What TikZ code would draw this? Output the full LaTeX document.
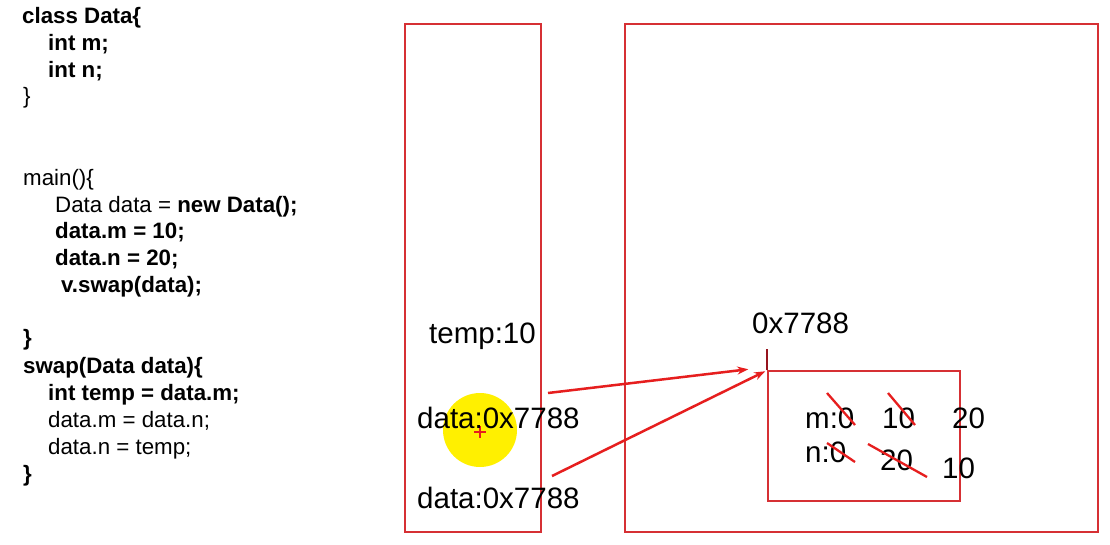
\documentclass[tikz,border=0pt]{standalone}
\usepackage{fontspec}
\setmainfont{Liberation Sans}
\usetikzlibrary{arrows.meta}
\definecolor{boxred}{RGB}{214,48,52}
\definecolor{arrred}{RGB}{230,30,30}
\definecolor{tickred}{RGB}{150,20,30}
\definecolor{hilite}{RGB}{255,240,0}
\begin{document}
\begin{tikzpicture}[x=1pt,y=-1pt,
  code/.style={anchor=base west,inner sep=0pt,font=\fontsize{22.3}{26}\selectfont},
  lbl/.style={anchor=base west,inner sep=0pt,font=\fontsize{29.5}{35}\selectfont},
  frame/.style={draw=boxred,line width=1.5pt,inner sep=0pt},
  ptr/.style={draw=arrred,line width=2.5pt,-{Stealth[length=11pt,width=8pt]}},
  strike/.style={draw=arrred,line width=2.3pt}]
\useasboundingbox (0,0) rectangle (1110,544);
\fill[white] (0,0) rectangle (1110,544);
% code
\node[code] (c1) at (22,23) {\bfseries class Data\{};
\node[code] (c2) at (48,50) {\bfseries int m;};
\node[code] (c3) at (48,77) {\bfseries int n;};
\node[code] (c4) at (23,103) {\}};
\node[code] (c5) at (23,185) {main()\{};
\node[code] (c6) at (55,212) {Data data = \textbf{new Data();}};
\node[code] (c7) at (55,238) {\bfseries data.m = 10;};
\node[code] (c8) at (55,265) {\bfseries data.n = 20;};
\node[code] (c9) at (61,292) {\bfseries v.swap(data);};
\node[code] (c10) at (23,345) {\bfseries \}};
\node[code] (c11) at (23,373) {\bfseries swap(Data data)\{};
\node[code] (c12) at (48,400) {\bfseries int temp = data.m;};
\node[code] (c13) at (48,427) {data.m = data.n;};
\node[code] (c14) at (48,454) {data.n = temp;};
\node[code] (c15) at (23,481) {\bfseries \}};
% frames
\node[frame,minimum width=136pt,minimum height=508pt] (stack) at (473,278) {};
\node[frame,minimum width=473pt,minimum height=508pt] (heap) at (861.5,278) {};
\node[frame,minimum width=192pt,minimum height=130pt] (obj) at (864,436) {};
% highlight
\fill[hilite] (480,430) circle (37);
\draw[arrred,line width=1.5pt] (474,432) -- (486,432) (480,426) -- (480,438);
% stack labels
\node[lbl] (temp) at (429,343) {temp:10};
\node[lbl] (d1) at (417,428) {data:0x7788};
\node[lbl] (d2) at (417,508) {data:0x7788};
% heap labels
\node[lbl] (addr) at (752,333) {0x7788};
\draw[tickred,line width=2pt] (obj.north west) -- ++(0,-21) coordinate (tick);
\node[lbl] (m0) at (805,428) {m:0};
\node[lbl] (m10) at (882,428) {10};
\node[lbl] (m20) at (952,428) {20};
\node[lbl] (n0) at (805,462) {n:0};
\node[lbl] (n20) at (880,470) {20};
\node[lbl] (n10) at (942,478) {10};
% strikes
\draw[strike] (827,393) -- (855,425);
\draw[strike] (888,393) -- (915,425);
\draw[strike] (827,443) -- (855,462);
\draw[strike] (868,444) -- (927,477);
% pointers
\coordinate (s1) at (548,393);
\coordinate (s2) at (552,476);
\coordinate (e1) at ([shift={(-19,-1)}]obj.north west);
\coordinate (e2) at ([shift={(-2,1)}]obj.north west);
\draw[ptr] (s1) -- (e1);
\draw[ptr] (s2) -- (e2);
\end{tikzpicture}
\end{document}
